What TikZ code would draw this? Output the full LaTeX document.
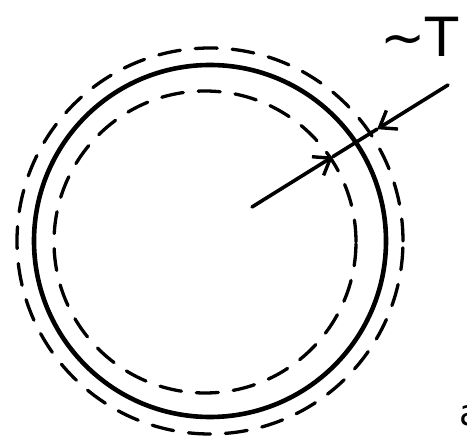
\documentclass[tikz,border=0pt]{standalone}
\usepackage{fontspec}
\setsansfont{DejaVu Sans}
\usetikzlibrary{arrows.meta,calc}

\begin{document}
\begin{tikzpicture}[x=1pt,y=1pt,
    wall/.style={line width=4.6pt},
    bound/.style={line width=3.3pt,line cap=round,dash pattern=on 22pt off 15pt},
    gauge/.style={line width=3.6pt,line cap=round},
    tip/.style={-{Straight Barb[length=15pt,width=22pt,line width=3.4pt]}},
    lbl/.style={inner sep=0pt,font=\sffamily\fontsize{54}{58}\selectfont}
  ]
  \useasboundingbox (0,0) rectangle (467,445);
  \clip (0,0) rectangle (467,445);
  % pipe wall and its two dashed bounds
  \coordinate (ctr) at (210,204);
  \coordinate (ictr) at (205,203);
  \draw[wall] (ctr) circle[radius=176];
  \draw[bound] (ctr) circle[radius=193];
  \draw[bound] (ictr) circle[radius=151];
  % thickness gauge
  \coordinate (gs) at (252,238);
  \coordinate (ge) at (448,360);
  \coordinate (gi) at ($(gs)!0.413!(ge)$);
  \coordinate (go) at ($(gs)!0.638!(ge)$);
  \draw[gauge] (gi) -- (go);
  \draw[gauge,tip] (gs) -- (gi);
  \draw[gauge,tip] (ge) -- (go);
  \node[lbl,anchor=base west] (thk) at (380,388) {\textasciitilde T};
  \node[lbl,anchor=west,font=\sffamily\fontsize{36}{40}\selectfont] (cut) at (459,29) {a};
\end{tikzpicture}
\end{document}
